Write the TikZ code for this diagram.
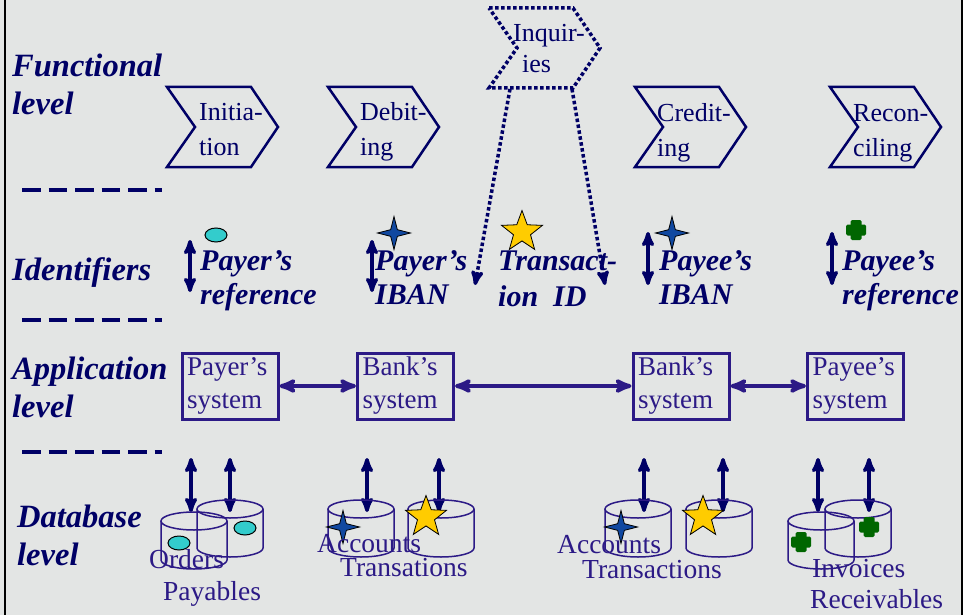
\documentclass[tikz,border=0pt]{standalone}
\usepackage{fontspec}
\setmainfont{Liberation Serif}
\usetikzlibrary{arrows,shapes.geometric}

\definecolor{navy}{RGB}{0,0,102}
\definecolor{sysblue}{RGB}{44,26,134}
\definecolor{slide}{RGB}{227,229,228}
\definecolor{refcyan}{RGB}{51,204,204}
\definecolor{ibanblue}{RGB}{16,72,160}
\definecolor{idgold}{RGB}{255,204,0}
\definecolor{refgreen}{RGB}{0,102,0}

% chevron: left x, top y
\newcommand{\fnchev}[3][solid]{%
  \draw[chev,#1] (#2,#3) -- ++(84,0) -- ++(27,40) -- ++(-27,40) -- ++(-84,0) -- ++(28,-40) -- cycle;}
% database: centre x, top y
\newcommand{\dbcyl}[2]{%
  \draw[cyl] (#1,#2) ellipse (33 and 9);
  \draw[cyl] (#1-33,#2) -- ++(0,39) arc (180:0:33 and 9) -- ++(0,-39);}
% reference mark
\newcommand{\refmark}[2]{%
  \fill[refgreen,rounded corners=1.5pt] (#1-10,#2-5.5) rectangle (#1+10,#2+5.5);
  \fill[refgreen,rounded corners=1.5pt] (#1-5.5,#2-10) rectangle (#1+5.5,#2+10);}

\begin{document}
\begin{tikzpicture}[x=1pt,y=-1pt,>=stealth',
  lvl node/.style={anchor=base west,inner sep=0,align=left,text=navy,font=\fontsize{32.5}{38}\selectfont\bfseries\itshape},
  id node/.style={anchor=base west,inner sep=0,align=left,text=navy,font=\fontsize{30}{34}\selectfont\bfseries\itshape},
  fn node/.style={anchor=base west,inner sep=0,align=left,text=navy,font=\fontsize{26}{35}\selectfont},
  db node/.style={anchor=base west,inner sep=0,text=sysblue,font=\fontsize{27.5}{30}\selectfont},
  sys node/.style={draw=sysblue,line width=3pt,text=sysblue,font=\fontsize{27}{33}\selectfont,
    align=left,text width=86pt,inner xsep=5pt,inner ysep=0pt,minimum height=66pt},
  oval node/.style={ellipse,draw=black,line width=1pt,fill=refcyan,minimum width=22pt,minimum height=14pt,inner sep=0},
  iban node/.style={star,star points=4,star point ratio=3.5,draw=black,line width=0.8pt,fill=ibanblue,minimum size=33pt,inner sep=0},
  tid node/.style={star,star points=5,star point ratio=2.4,draw=black,line width=0.8pt,fill=idgold,minimum size=43pt,inner sep=0},
  chev/.style={draw=navy,line width=2.5pt},
  cyl/.style={draw=sysblue,line width=1.5pt},
  sep/.style={draw=navy,line width=4pt,dash pattern=on 18.5pt off 8pt},
  vlink/.style={<->,draw=navy,line width=3.5pt},
  hlink/.style={<->,draw=sysblue,line width=4pt},
  qlink/.style={->,draw=navy,line width=3.5pt,dash pattern=on 3.5pt off 2.5pt}]

  \useasboundingbox (0,0) rectangle (963,615);
  \fill[slide] (0,0) rectangle (963,615);
  \draw[black,line width=2pt] (5,0) -- (5,615) (962,0) -- (962,615);

  % levels
  \node[lvl node] (fl) at (12,115) {Functional\\level};
  \node[lvl node] (il) at (12,280) {Identifiers};
  \node[lvl node] (al) at (12,417) {Application\\level};
  \node[lvl node] (dl) at (17,565) {Database\\level};
  \foreach \y in {190,320,452}
    \draw[sep] (22,\y) -- (162,\y);

  % functional level
  \fnchev{167}{87}
  \fnchev{328}{87}
  \fnchev[dash pattern=on 3.5pt off 2.5pt,line width=3.5pt]{489}{8}
  \fnchev{635}{87}
  \fnchev{830}{87}
  \node[fn node] (init) at (199,155) {Initia-\\tion};
  \node[fn node] (debit) at (360,155) {Debit-\\ing};
  \node[fn node,font=\fontsize{26}{31}\selectfont] (inq) at (513,73) {Inquir-\\\hspace*{9pt}ies};
  \node[fn node] (credit) at (657,156) {Credit-\\ing};
  \node[fn node] (recon) at (853,156) {Recon-\\ciling};

  % identifiers
  \node[id node] (id1) at (200,304) {Payer’s\\reference};
  \node[id node] (id2) at (375,304) {Payer’s\\IBAN};
  \node[id node,font=\fontsize{30}{36}\selectfont\bfseries\itshape] (id3) at (498,306) {Transact-\\ion~~ID};
  \node[id node] (id4) at (659,304) {Payee’s\\IBAN};
  \node[id node] (id5) at (842,304) {Payee’s\\reference};
  \node[oval node] (o1) at (216,235) {};
  \node[iban node] (s1) at (394,233) {};
  \node[tid node] (t1) at (522,232) {};
  \node[iban node] (s2) at (672,233) {};
  \refmark{856}{230}

  \foreach \n/\x/\ya/\yb in {1/190/240/292,2/372/240/292,3/648/232/285,4/832/232/285}{
    \coordinate (u\n) at (\x,\ya);
    \coordinate (d\n) at (\x,\yb);
    \draw[vlink] (u\n) -- (d\n);
  }
  \coordinate (q1) at (510,89);
  \coordinate (q2) at (572,89);
  \coordinate (qe1) at (475,285);
  \coordinate (qe2) at (605,285);
  \draw[qlink] (q1) -- (qe1);
  \draw[qlink] (q2) -- (qe2);

  % application level
  \node[sys node] (sys1) at (230,386) {Payer’s\\system};
  \node[sys node] (sys2) at (405.5,386) {Bank’s\\system};
  \node[sys node] (sys3) at (681,386) {Bank’s\\system};
  \node[sys node] (sys4) at (855.5,386) {Payee’s\\system};
  \path (sys1) edge[hlink] (sys2)
        (sys2) edge[hlink] (sys3)
        (sys3) edge[hlink] (sys4);

  % database level
  \foreach \n/\x in {1/191,2/230,3/367,4/439,5/644,6/723,7/818,8/869}{
    \coordinate (a\n) at (\x,458);
    \coordinate (b\n) at (\x,512);
    \draw[vlink] (a\n) -- (b\n);
  }
  \dbcyl{194}{521}
  \dbcyl{230}{509}
  \dbcyl{361}{509}
  \dbcyl{441}{509}
  \dbcyl{638}{509}
  \dbcyl{719}{509}
  \dbcyl{821}{521}
  \dbcyl{858}{509}

  \node[oval node] (o2) at (179,543) {};
  \node[oval node] (o3) at (245,528) {};
  \node[iban node] (s3) at (343,527) {};
  \node[tid node] (t2) at (426,517) {};
  \node[iban node] (s4) at (621,527) {};
  \node[tid node] (t3) at (703,517) {};
  \refmark{801}{542}
  \refmark{869}{527}

  \node[db node] (orders) at (149,568) {Orders};
  \node[db node] (payab) at (163,600) {Payables};
  \node[db node] (acc1) at (317,552) {Accounts};
  \node[db node] (tra1) at (340,576) {Transations};
  \node[db node] (acc2) at (557,553) {Accounts};
  \node[db node] (tra2) at (582,578) {Transactions};
  \node[db node] (invo) at (812,577) {Invoices};
  \node[db node] (recv) at (810,608) {Receivables};

\end{tikzpicture}
\end{document}
